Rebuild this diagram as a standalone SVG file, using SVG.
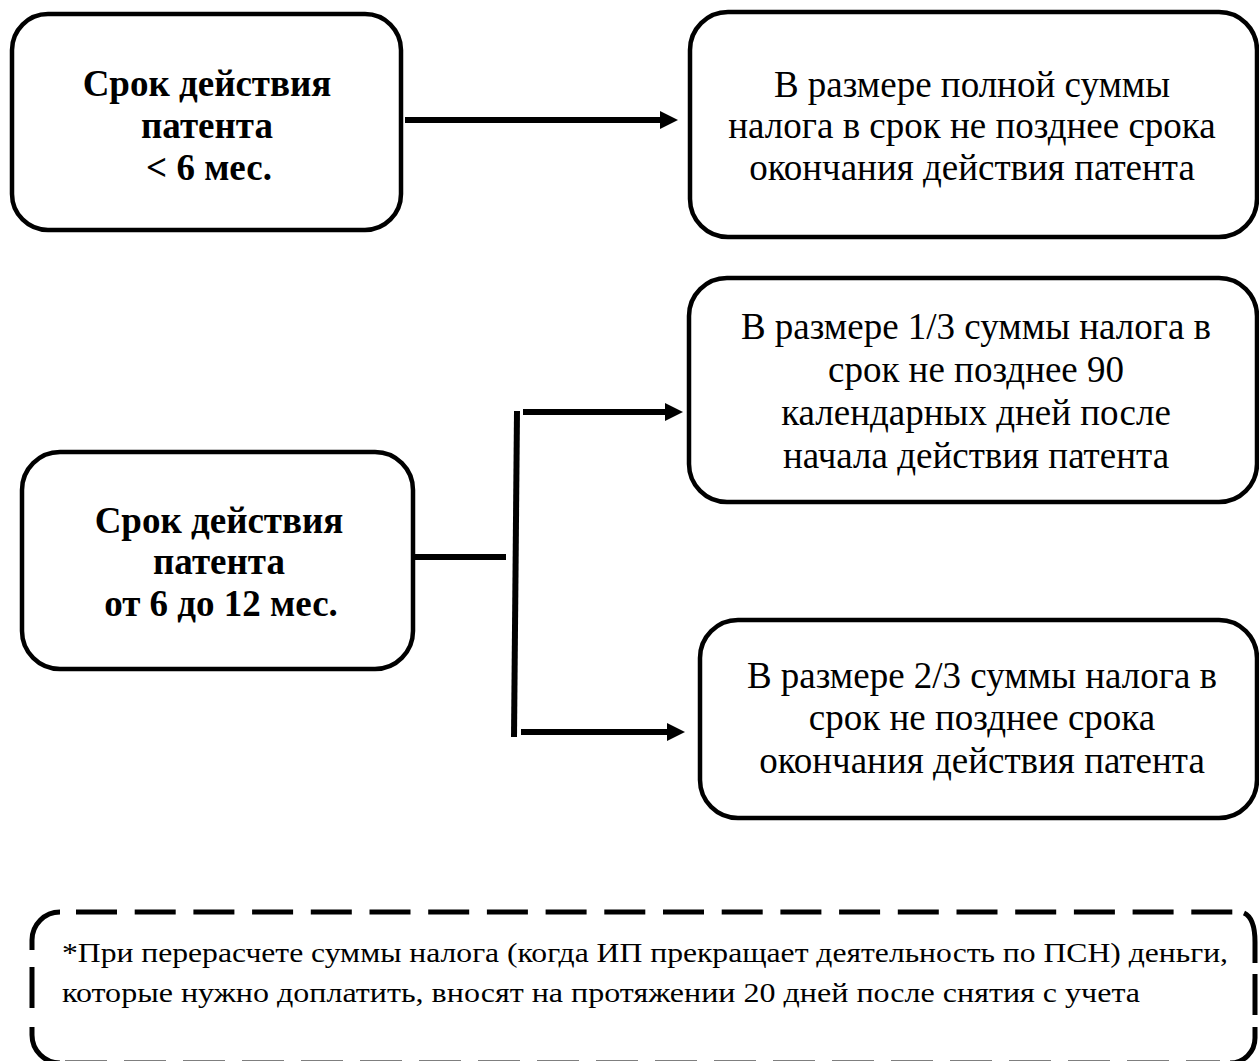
<svg xmlns="http://www.w3.org/2000/svg" width="1259" height="1061" viewBox="0 0 1259 1061">
  <defs>
    <style>
      .box { fill: #ffffff; stroke: #000000; stroke-width: 4.5; }
      .bold { font-family: "Liberation Serif", "Times New Roman", serif; font-weight: bold; font-size: 37px; fill: #000; text-anchor: middle; }
      .reg { font-family: "Liberation Serif", "Times New Roman", serif; font-size: 37px; fill: #000; text-anchor: middle; }
      .note { font-family: "Liberation Serif", "Times New Roman", serif; font-size: 27px; fill: #000; }
      .conn { stroke: #000; stroke-width: 6; fill: none; }
      .dash { stroke: #000; stroke-width: 5; fill: none; }
    </style>
    <marker id="arrow" markerUnits="userSpaceOnUse" markerWidth="20" markerHeight="20" refX="0" refY="9" orient="auto">
      <path d="M0,0 L18,9 L0,18 Z" fill="#000"/>
    </marker>
  </defs>
  <rect width="1259" height="1061" fill="#ffffff"/>

  <g id="node-short">
    <rect class="box" x="12" y="14" width="389" height="216" rx="36" ry="36"/>
    <text class="bold" x="207" y="96">Срок действия</text>
    <text class="bold" x="207" y="138">патента</text>
    <text class="bold" x="209" y="180">&lt; 6 мес.</text>
  </g>

  <g id="node-full">
    <rect class="box" x="690" y="12" width="567" height="225" rx="38" ry="38"/>
    <text class="reg" x="972" y="97">В размере полной суммы</text>
    <text class="reg" x="972" y="138">налога в срок не позднее срока</text>
    <text class="reg" x="972" y="180">окончания действия патента</text>
  </g>

  <g id="node-long">
    <rect class="box" x="22" y="452" width="391" height="217" rx="38" ry="38"/>
    <text class="bold" x="219" y="533">Срок действия</text>
    <text class="bold" x="219" y="574">патента</text>
    <text class="bold" x="221" y="616">от 6 до 12 мес.</text>
  </g>

  <g id="node-third">
    <rect class="box" x="689" y="278" width="568" height="224" rx="38" ry="38"/>
    <text class="reg" x="976" y="339">В размере 1/3 суммы налога в</text>
    <text class="reg" x="976" y="382">срок не позднее 90</text>
    <text class="reg" x="976" y="425">календарных дней после</text>
    <text class="reg" x="976" y="468">начала действия патента</text>
  </g>

  <g id="node-twothirds">
    <rect class="box" x="700" y="620" width="557" height="198" rx="38" ry="38"/>
    <text class="reg" x="982" y="688">В размере 2/3 суммы налога в</text>
    <text class="reg" x="982" y="730">срок не позднее срока</text>
    <text class="reg" x="982" y="773">окончания действия патента</text>
  </g>

  <g id="connectors">
    <line class="conn" x1="405" y1="120" x2="660" y2="120" marker-end="url(#arrow)"/>
    <line class="conn" x1="413" y1="557" x2="506" y2="557"/>
    <line class="conn" x1="517" y1="411" x2="514" y2="737"/>
    <line class="conn" x1="523" y1="412" x2="665" y2="412" marker-end="url(#arrow)"/>
    <line class="conn" x1="521" y1="732" x2="667" y2="732" marker-end="url(#arrow)"/>
  </g>

  <g id="note">
    <path class="dash" d="M32,950 L32,940 A28,28 0 0 1 60,912"/>
    <line class="dash" x1="76" y1="912" x2="1233" y2="912" stroke-dasharray="41 17.7"/>
    <path class="dash" d="M1244,913 Q1255,918 1255,942 L1255,963"/>
    <line class="dash" x1="1255" y1="974" x2="1255" y2="1015"/>
    <path class="dash" d="M1255,1027 L1255,1038 A25,25 0 0 1 1230,1063"/>
    <line class="dash" x1="32" y1="967" x2="32" y2="1008"/>
    <path class="dash" d="M32,1027 L32,1035 A28,28 0 0 0 60,1063"/>
    <line class="dash" x1="65" y1="1063" x2="1220" y2="1063" stroke-dasharray="42 17"/>
    <text class="note" x="62" y="962" textLength="1166" lengthAdjust="spacingAndGlyphs">*При перерасчете суммы налога (когда ИП прекращает деятельность по ПСН) деньги,</text>
    <text class="note" x="62" y="1002" textLength="1078" lengthAdjust="spacingAndGlyphs">которые нужно доплатить, вносят на протяжении 20 дней после снятия с учета</text>
  </g>
</svg>
